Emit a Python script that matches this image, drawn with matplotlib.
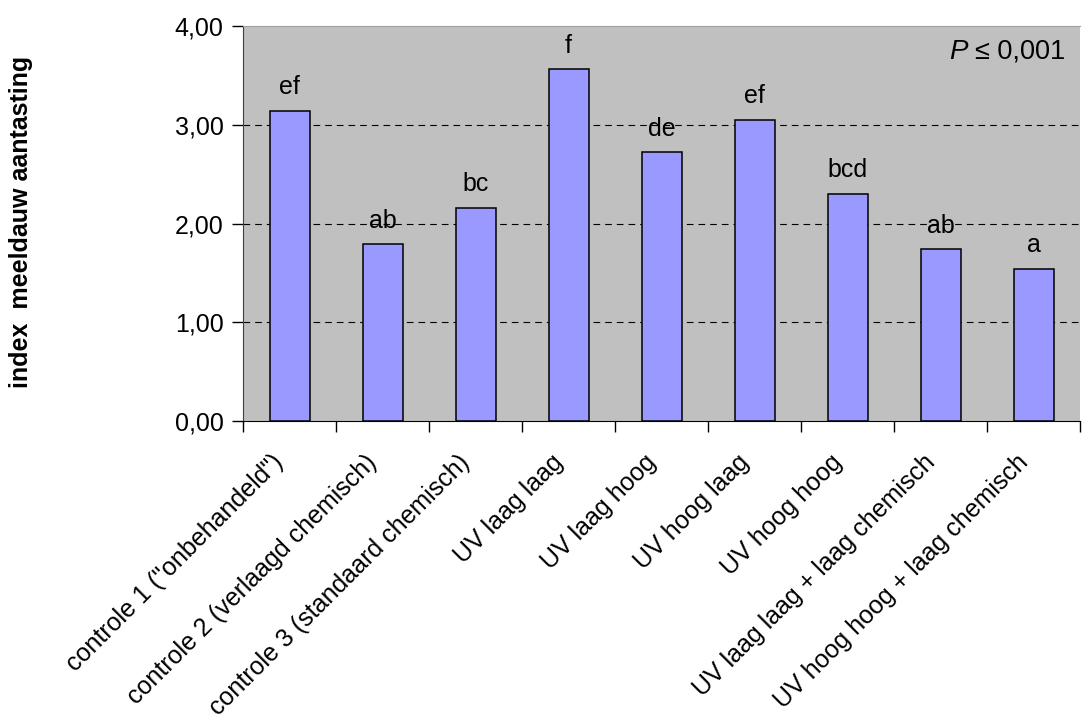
import numpy as np
import matplotlib
matplotlib.use("Agg")
import matplotlib.pyplot as plt
from matplotlib.ticker import FuncFormatter
from matplotlib.transforms import ScaledTranslation

plt.rcParams['font.family'] = ['Liberation Sans', 'DejaVu Sans']

categories = ['controle 1 ("onbehandeld")', 'controle 2 (verlaagd chemisch)',
              'controle 3 (standaard chemisch)', 'UV laag laag', 'UV laag hoog',
              'UV hoog laag', 'UV hoog hoog', 'UV laag laag + laag chemisch',
              'UV hoog hoog + laag chemisch']
values = [3.14, 1.79, 2.16, 3.56, 2.72, 3.05, 2.30, 1.74, 1.54]
letters = ['ef', 'ab', 'bc', 'f', 'de', 'ef', 'bcd', 'ab', 'a']

fig = plt.figure(figsize=(10.86, 7.15), dpi=100)
ax = fig.add_axes([0.2238, 0.4112, 0.7707, 0.5524])
ax.set_facecolor('#c0c0c0')

x = np.arange(len(categories))
ax.bar(x, values, width=0.43, color='#9999ff', edgecolor='black', linewidth=1.1, zorder=3)

for yy in [1, 2, 3]:
    ax.axhline(yy, color='black', linestyle=(0, (6, 4.5)), linewidth=0.8, zorder=2)

for xi, v, lab in zip(x, values, letters):
    ax.annotate(lab, (xi, v), xytext=(0, 12), textcoords='offset points',
                ha='center', va='baseline', fontsize=18, zorder=4)

ax.set_xlim(-0.5, len(categories) - 0.5)
ax.set_ylim(0, 4)
ax.set_yticks([0, 1, 2, 3, 4])
ax.yaxis.set_major_formatter(FuncFormatter(lambda v, p: f'{v:.2f}'.replace('.', ',')))

# tick marks between categories, labels centred on the bars
ax.set_xticks(np.arange(-0.5, len(categories), 1.0))
ax.set_xticklabels([])
ax.set_xticks(x, minor=True)
ax.set_xticklabels(categories, minor=True, rotation=45, ha='right', va='top',
                   rotation_mode='anchor', fontsize=18)
ax.tick_params(axis='x', which='minor', length=0, pad=21)
ax.tick_params(axis='x', which='major', length=8, width=1, direction='out')
ax.tick_params(axis='y', length=8, width=1, direction='out', labelsize=18, pad=6)

shift = ScaledTranslation(-0.18, 0, fig.dpi_scale_trans)
for lbl in ax.get_xticklabels(minor=True):
    lbl.set_transform(lbl.get_transform() + shift)

ax.spines['top'].set_color('#a0a0a0')
ax.spines['right'].set_visible(False)
ax.spines['left'].set_color('#404040')
ax.spines['bottom'].set_color('black')

ptxt = ax.text(0.982, 0.935, '\u2264 0,001', transform=ax.transAxes,
               ha='right', va='center', fontsize=19.5)
ax.annotate('P', xy=(0, 0.5), xycoords=ptxt, xytext=(-5, 0),
            textcoords='offset points', ha='right', va='center',
            fontsize=20, fontstyle='italic')

fig.text(0.019, 0.69, 'index  meeldauw aantasting', rotation=90, ha='center',
         va='center', fontsize=18, fontweight='bold')

fig.savefig('out.png', dpi=100)
